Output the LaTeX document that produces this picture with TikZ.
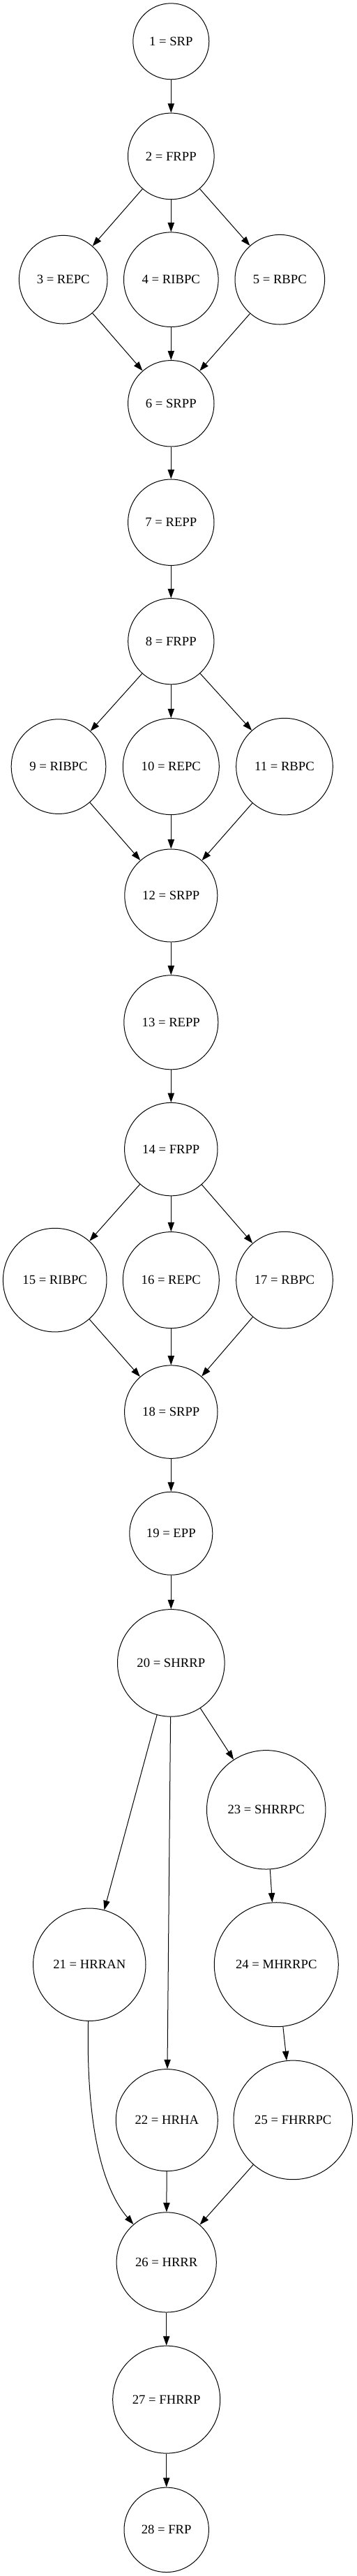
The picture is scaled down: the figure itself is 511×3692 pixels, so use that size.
\documentclass[tikz,border=0pt]{standalone}
\usepackage{fontspec}
\setmainfont{Liberation Serif}
\usetikzlibrary{arrows.meta}
\begin{document}
\begin{tikzpicture}[x=0.75pt,y=-0.75pt,
  gn/.style={circle,draw,line width=0.75pt,inner sep=0pt,font=\fontsize{14}{16}\selectfont},
  rad/.style={minimum size=#1*1.5pt},
  ed/.style={draw,line width=0.75pt,-{Triangle[length=10pt,width=7pt]}}]
\path[use as bounding box] (0,0) rectangle (511,3692);
\node[gn,rad=54.5] (n1) at (245.3,59.3) {1 = SRP};
\node[gn,rad=61.8] (n2) at (245.3,223.9) {2 = FRPP};
\node[gn,rad=63.3] (n3) at (90.7,400.7) {3 = REPC};
\node[gn,rad=67.8] (n4) at (245.3,400.7) {4 = RIBPC};
\node[gn,rad=64.3] (n5) at (401.3,400.7) {5 = RBPC};
\node[gn,rad=61.7] (n6) at (245.3,578.3) {6 = SRPP};
\node[gn,rad=61.7] (n7) at (245.3,748.7) {7 = REPP};
\node[gn,rad=61.6] (n8) at (245.3,919.2) {8 = FRPP};
\node[gn,rad=67.8] (n9) at (84,1098.6) {9 = RIBPC};
\node[gn,rad=69] (n10) at (245.3,1098.6) {10 = REPC};
\node[gn,rad=69.3] (n11) at (408,1098.6) {11 = RBPC};
\node[gn,rad=66.5] (n12) at (245.3,1283.5) {12 = SRPP};
\node[gn,rad=67.5] (n13) at (245.3,1465.3) {13 = REPP};
\node[gn,rad=66.7] (n14) at (245.3,1647.1) {14 = FRPP};
\node[gn,rad=74.3] (n15) at (78.7,1834.6) {15 = RIBPC};
\node[gn,rad=69] (n16) at (245.3,1834.6) {16 = REPC};
\node[gn,rad=69.3] (n17) at (408,1834.6) {17 = RBPC};
\node[gn,rad=66.7] (n18) at (245.3,2023.6) {18 = SRPP};
\node[gn,rad=59.5] (n19) at (245.3,2197.7) {19 = EPP};
\node[gn,rad=76.8] (n20) at (245.3,2383.4) {20 = SHRRP};
\node[gn,rad=85.2] (n23) at (381.7,2593.8) {23 = SHRRPC};
\node[gn,rad=80.7] (n21) at (128.3,2815.7) {21 = HRRAN};
\node[gn,rad=89] (n24) at (396.3,2815.7) {24 = MHRRPC};
\node[gn,rad=73] (n22) at (239.3,3038.6) {22 = HRHA};
\node[gn,rad=85.3] (n25) at (420.3,3038.4) {25 = FHRRPC};
\node[gn,rad=71.6] (n26) at (238.7,3242.4) {26 = HRRR};
\node[gn,rad=77] (n27) at (238.7,3439.1) {27 = FHRRP};
\node[gn,rad=60.7] (n28) at (238.7,3625.8) {28 = FRP};
\path[ed] (n1) -- (n2);
\path[ed] (n2) -- (n3);
\path[ed] (n2) -- (n4);
\path[ed] (n2) -- (n5);
\path[ed] (n3) -- (n6);
\path[ed] (n4) -- (n6);
\path[ed] (n5) -- (n6);
\path[ed] (n6) -- (n7);
\path[ed] (n7) -- (n8);
\path[ed] (n8) -- (n9);
\path[ed] (n8) -- (n10);
\path[ed] (n8) -- (n11);
\path[ed] (n9) -- (n12);
\path[ed] (n10) -- (n12);
\path[ed] (n11) -- (n12);
\path[ed] (n12) -- (n13);
\path[ed] (n13) -- (n14);
\path[ed] (n14) -- (n15);
\path[ed] (n14) -- (n16);
\path[ed] (n14) -- (n17);
\path[ed] (n15) -- (n18);
\path[ed] (n16) -- (n18);
\path[ed] (n17) -- (n18);
\path[ed] (n18) -- (n19);
\path[ed] (n19) -- (n20);
\path[ed] (n20) -- (n21);
\path[ed] (n20) -- (n22);
\path[ed] (n20) -- (n23);
\path[ed] (n23) -- (n24);
\path[ed] (n24) -- (n25);
\path[ed] (n21) .. controls (123.3,3050) and (148,3138) .. (n26);
\path[ed] (n22) -- (n26);
\path[ed] (n25) -- (n26);
\path[ed] (n26) -- (n27);
\path[ed] (n27) -- (n28);
\end{tikzpicture}
\end{document}
